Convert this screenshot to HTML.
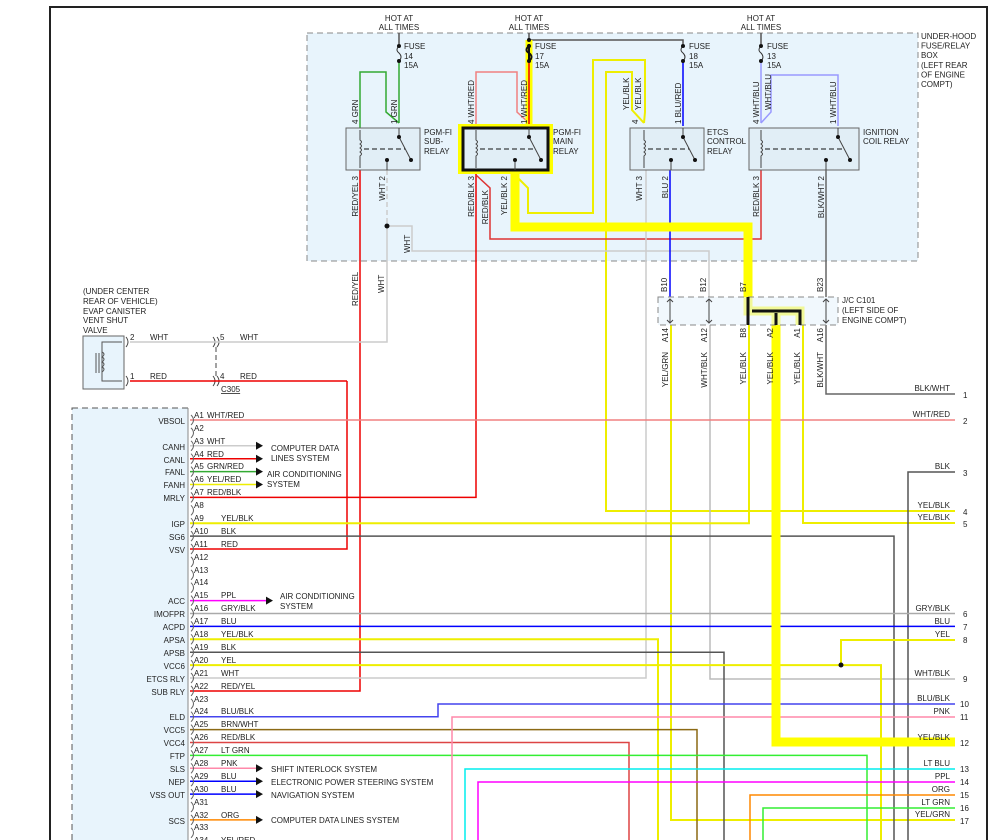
<!DOCTYPE html>
<html><head><meta charset="utf-8"><style>
html,body{margin:0;padding:0;background:#fff}
svg{display:block}
text{font-family:"Liberation Sans",Arial,sans-serif;font-size:8px;fill:#222}
.w{fill:none;stroke-width:1.5}
</style></head><body>
<svg width="994" height="840" viewBox="0 0 994 840" xmlns="http://www.w3.org/2000/svg">
<!-- frame -->
<path d="M50,840 V7 H987 V840" fill="none" stroke="#222" stroke-width="2"/>
<!-- fuse box -->
<rect x="307" y="33" width="611" height="228" fill="#e8f4fc" stroke="#888" stroke-dasharray="6,4"/>
<text x="921" y="39">UNDER-HOOD</text><text x="921" y="48.5">FUSE/RELAY</text><text x="921" y="58">BOX</text><text x="921" y="68">(LEFT REAR</text><text x="921" y="77.5">OF ENGINE</text><text x="921" y="87">COMPT)</text>
<!-- hot at all times -->
<g text-anchor="middle">
<text x="399" y="21">HOT AT</text><text x="399" y="30">ALL TIMES</text>
<text x="529" y="21">HOT AT</text><text x="529" y="30">ALL TIMES</text>
<text x="761" y="21">HOT AT</text><text x="761" y="30">ALL TIMES</text>
</g>
<!-- ECM box -->
<rect x="72" y="408" width="116" height="440" fill="#e8f4fc" stroke="#555" stroke-dasharray="6,4"/>
<line x1="188" y1="408" x2="188" y2="840" stroke="#888"/>
<!-- evap valve -->
<rect x="83" y="336" width="41" height="53" fill="#e8f4fc" stroke="#666"/>
<path d="M99,353 V373 M96,353 V373 M122,342 H102 V381 H122" fill="none" stroke="#555"/>
<path d="M102,352 q4,2 0,5 q4,2 0,5 q4,2 0,5 q4,2 0,5" fill="none" stroke="#555"/>
<text x="83" y="294">(UNDER CENTER</text><text x="83" y="304">REAR OF VEHICLE)</text><text x="83" y="314">EVAP CANISTER</text><text x="83" y="323">VENT SHUT</text><text x="83" y="333">VALVE</text>
<text x="130" y="340">2</text><text x="150" y="340">WHT</text><text x="130" y="379">1</text><text x="150" y="379">RED</text>
<text x="220" y="340">5</text><text x="240" y="340">WHT</text><text x="220" y="379">4</text><text x="240" y="379">RED</text>
<text x="221" y="392" text-decoration="underline">C305</text>
<path d="M126,337 q4,5 0,10 M126,376 q4,5 0,10 M213,337 q4,5 0,10 M217,337 q4,5 0,10 M213,376 q4,5 0,10 M217,376 q4,5 0,10" fill="none" stroke="#444"/>
<line x1="216" y1="347" x2="216" y2="376" stroke="#444" stroke-dasharray="5,3"/>

<!-- ===== wires ===== -->
<g class="w">
<!-- fuse feed -->
<path d="M399,33 V44 M529,33 V40 H683 V44 M761,33 V44" stroke="#555"/>
<path d="M399,61 V123" stroke="#3a3"/>
<path d="M360,128 V72 H386 V112 L399,123" stroke="#3a3"/>
<path d="M476,128 V72 H517 V112 L529,123" stroke="#f08080"/>
<path d="M683,61 V126" stroke="#00f"/>
<path d="M761,61 V123 M761,123 L771,112 V75 H838 V126" stroke="#99f"/>
<!-- yellow thin wires -->
<path d="M515,175 L528,188 V213 H593 V60 H645 V112 L644,123" stroke="#ee0" stroke-width="2"/>
<path d="M644,123 L632,110 V72 H606 V511 H955" stroke="#ee0" stroke-width="2"/>
<!-- relay bottoms -->
<path d="M360,170 V691 H190" stroke="#e00"/>
<path d="M387,170 V226" stroke="#ccc" stroke-dasharray="5,3"/>
<path d="M387,226 V342 H130" stroke="#ccc"/>
<path d="M387,226 H412 V251 H709 V297" stroke="#ccc"/>
<path d="M476,170 V497.4 H190" stroke="#e00"/>
<path d="M476,175 L490,188 V239 H761 V170" stroke="#d33"/>
<path d="M646,170 V678 H190" stroke="#ccc"/>
<path d="M670,170 V297" stroke="#00f"/>
<path d="M826,170 V297" stroke="#666"/>
<path d="M347,381 V549 H190" stroke="#e00"/>
<path d="M130,381 H347" stroke="#e00"/>
<!-- J/C bottom wires -->
<path d="M826,325 V394 H955" stroke="#666"/>
<path d="M671,325 V820 H955" stroke="#ee0" stroke-width="2"/>
<path d="M710,325 V679 H955" stroke="#bbb"/>
<path d="M749,325 V523.2 H190" stroke="#ee0" stroke-width="2"/>
<path d="M803,325 V523 H955" stroke="#ee0" stroke-width="2"/>
<!-- ECM pin wires -->
<path d="M190,420 H955" stroke="#f08080"/>
<path d="M190,445.8 H258" stroke="#ccc"/>
<path d="M190,458.7 H258" stroke="#e00"/>
<path d="M190,471.6 H258" stroke="#3a3"/>
<path d="M190,484.5 H258" stroke="#ee0"/>
<path d="M190,536.1 H894 V840" stroke="#555"/>
<path d="M908,840 V472 H955" stroke="#555"/>
<path d="M190,600.6 H268" stroke="#f0f"/>
<path d="M190,613.5 H955" stroke="#aaa"/>
<path d="M190,626.4 H955" stroke="#00f"/>
<path d="M190,639.3 H658 V840" stroke="#ee0" stroke-width="2"/>
<path d="M190,652.2 H724 V840" stroke="#555"/>
<path d="M190,665.1 H881 V840" stroke="#ee0" stroke-width="2"/>
<path d="M841,665 V640 H955" stroke="#ee0" stroke-width="2"/>
<path d="M190,716.7 H438 V704 H955" stroke="#44e"/>
<path d="M190,729.6 H697 V840" stroke="#8b6914"/>
<path d="M190,742.5 H629 V840" stroke="#d44"/>
<path d="M190,755.4 H867 V840" stroke="#3e3"/>
<path d="M452,840 V717 H955" stroke="#f8a"/>
<path d="M465,840 V769 H955" stroke="#0ee"/>
<path d="M478,840 V782 H955" stroke="#f0f"/>
<path d="M750,840 V795 H955" stroke="#f80"/>
<path d="M763,840 V808 H955" stroke="#3e3"/>
<path d="M190,768.3 H258" stroke="#f8a"/>
<path d="M190,781.2 H258" stroke="#00f"/>
<path d="M190,794.1 H258" stroke="#00f"/>
<path d="M190,819.9 H258" stroke="#f80"/>
<path d="M190,845 H258" stroke="#ee0"/>
</g>
<circle cx="387" cy="226" r="2.5" fill="#111"/>
<circle cx="841" cy="665" r="2.5" fill="#111"/>
<!-- arrows -->
<g fill="#111">
<path d="M256,441.8 l7,4 l-7,4z"/><path d="M256,454.7 l7,4 l-7,4z"/><path d="M256,467.6 l7,4 l-7,4z"/><path d="M256,480.5 l7,4 l-7,4z"/>
<path d="M266,596.6 l7,4 l-7,4z"/>
<path d="M256,764.3 l7,4 l-7,4z"/><path d="M256,777.2 l7,4 l-7,4z"/><path d="M256,790.1 l7,4 l-7,4z"/><path d="M256,815.9 l7,4 l-7,4z"/>
</g>
<text x="271" y="451">COMPUTER DATA</text><text x="271" y="461">LINES SYSTEM</text>
<text x="267" y="477">AIR CONDITIONING</text><text x="267" y="487">SYSTEM</text>
<text x="280" y="599">AIR CONDITIONING</text><text x="280" y="609">SYSTEM</text>
<text x="271" y="772">SHIFT INTERLOCK SYSTEM</text>
<text x="271" y="785">ELECTRONIC POWER STEERING SYSTEM</text>
<text x="271" y="798">NAVIGATION SYSTEM</text>
<text x="271" y="823">COMPUTER DATA LINES SYSTEM</text>

<!-- thick highlighted path -->
<g fill="none" stroke="#ff0" stroke-linejoin="miter">
<path d="M529,40 V128" stroke-width="7"/>
<path d="M515,174 V227 H748 V311 H800 V325 M776,311 V742 H955" stroke-width="9"/>
</g>
<path d="M529,44 V61" stroke="#111" stroke-width="2" fill="none"/>
<path d="M529,61 V128" stroke="#e00" stroke-width="1.5"/>
<path d="M748,297 V325 M752,311 H800 V325 M776,313 V325" stroke="#111" stroke-width="3" fill="none"/>
<rect x="458" y="124" width="95" height="50" fill="#ff0"/>

<!-- J/C box -->
<rect x="658" y="297" width="180" height="28" fill="#e8f4fc" fill-opacity="0.6" stroke="#888" stroke-dasharray="6,4"/>
<path d="M748,297 V325 M752,311 H800 V325 M776,313 V325" stroke="#111" stroke-width="3" fill="none"/>
<path d="M670,299 V323 M709,299 V323 M826,299 V323" stroke="#444"/>
<path d="M667,302 l3,-3 l3,3 M667,320 l3,3 l3,-3 M706,302 l3,-3 l3,3 M706,320 l3,3 l3,-3 M823,302 l3,-3 l3,3 M823,320 l3,3 l3,-3" fill="none" stroke="#444"/>
<text x="842" y="303">J/C C101</text><text x="842" y="313">(LEFT SIDE OF</text><text x="842" y="323">ENGINE COMPT)</text>

<!-- fuses -->
<g fill="none" stroke="#333">
<path d="M399,46 q-4,4 0,7 q4,4 0,8 M683,46 q-4,4 0,7 q4,4 0,8 M761,46 q-4,4 0,7 q4,4 0,8"/>
</g>
<path d="M529,46 q-5,4 0,7 q5,4 0,8" fill="none" stroke="#111" stroke-width="2"/>
<g fill="#111"><circle cx="399" cy="46" r="2"/><circle cx="399" cy="61" r="2"/><circle cx="529" cy="40" r="2"/><circle cx="529" cy="46" r="2"/><circle cx="529" cy="61" r="2"/><circle cx="683" cy="46" r="2"/><circle cx="683" cy="61" r="2"/><circle cx="761" cy="46" r="2"/><circle cx="761" cy="61" r="2"/></g>
<text x="404" y="49">FUSE</text><text x="404" y="59">14</text><text x="404" y="68">15A</text>
<text x="535" y="49">FUSE</text><text x="535" y="59">17</text><text x="535" y="68">15A</text>
<text x="689" y="49">FUSE</text><text x="689" y="59">18</text><text x="689" y="68">15A</text>
<text x="767" y="49">FUSE</text><text x="767" y="59">13</text><text x="767" y="68">15A</text>

<!-- relays -->
<g stroke="#666" fill="#e1eef6">
<rect x="346" y="128" width="74" height="42"/>
<rect x="463" y="128" width="85" height="42" stroke="#111" stroke-width="3"/>
<rect x="630" y="128" width="74" height="42"/>
<rect x="749" y="128" width="110" height="42"/>
</g>
<g fill="none" stroke="#444">
<path d="M360,130 V140 q3,2 0,4 q3,2 0,4 q3,2 0,4 q3,2 0,4 V168 M476,130 V140 q3,2 0,4 q3,2 0,4 q3,2 0,4 q3,2 0,4 V168 M644,130 V140 q3,2 0,4 q3,2 0,4 q3,2 0,4 q3,2 0,4 V168 M761,130 V140 q3,2 0,4 q3,2 0,4 q3,2 0,4 q3,2 0,4 V168"/>
<path d="M399,128 V137 L411,160 M529,128 V137 L541,160 M683,128 V137 L695,160 M838,128 V137 L850,160 M387,160 V170 M515,160 V170 M671,160 V170 M826,160 V170"/>
</g>
<g stroke="#111" stroke-dasharray="5,3"><path d="M364,149 H405 M480,149 H535 M648,149 H689 M765,149 H844"/></g>
<g fill="#111">
<circle cx="399" cy="137" r="2"/><circle cx="411" cy="160" r="2"/><circle cx="387" cy="160" r="2"/>
<circle cx="529" cy="137" r="2"/><circle cx="541" cy="160" r="2"/><circle cx="515" cy="160" r="2"/>
<circle cx="683" cy="137" r="2"/><circle cx="695" cy="160" r="2"/><circle cx="671" cy="160" r="2"/>
<circle cx="838" cy="137" r="2"/><circle cx="850" cy="160" r="2"/><circle cx="826" cy="160" r="2"/>
</g>
<text x="424" y="135">PGM-FI</text><text x="424" y="144">SUB-</text><text x="424" y="154">RELAY</text>
<text x="553" y="135">PGM-FI</text><text x="553" y="144">MAIN</text><text x="553" y="154">RELAY</text>
<text x="707" y="135">ETCS</text><text x="707" y="144">CONTROL</text><text x="707" y="154">RELAY</text>
<text x="863" y="135">IGNITION</text><text x="863" y="144">COIL RELAY</text>

<!-- rotated labels top -->
<g>
<text transform="translate(358,124) rotate(-90)">4  GRN</text>
<text transform="translate(397,124) rotate(-90)">1  GRN</text>
<text transform="translate(474,124) rotate(-90)">4  WHT/RED</text>
<text transform="translate(527,124) rotate(-90)">1  WHT/RED</text>
<text transform="translate(638,124) rotate(-90)">4</text>
<text transform="translate(629,110) rotate(-90)">YEL/BLK</text>
<text transform="translate(641,110) rotate(-90)">YEL/BLK</text>
<text transform="translate(681,124) rotate(-90)">1  BLU/RED</text>
<text transform="translate(759,124) rotate(-90)">4  WHT/BLU</text>
<text transform="translate(771,110) rotate(-90)">WHT/BLU</text>
<text transform="translate(836,124) rotate(-90)">1 WHT/BLU</text>
</g>
<g text-anchor="end">
<text transform="translate(358,176) rotate(-90)">RED/YEL  3</text>
<text transform="translate(385,176) rotate(-90)">WHT  2</text>
<text transform="translate(474,176) rotate(-90)">RED/BLK  3</text>
<text transform="translate(488,190) rotate(-90)">RED/BLK</text>
<text transform="translate(507,176) rotate(-90)">YEL/BLK  2</text>
<text transform="translate(642,176) rotate(-90)">WHT  3</text>
<text transform="translate(668,176) rotate(-90)">BLU  2</text>
<text transform="translate(759,176) rotate(-90)">RED/BLK  3</text>
<text transform="translate(824,176) rotate(-90)">BLK/WHT  2</text>
<text transform="translate(668,328) rotate(-90)">A14</text><text transform="translate(668,352) rotate(-90)">YEL/GRN</text>
<text transform="translate(707,328) rotate(-90)">A12</text><text transform="translate(707,352) rotate(-90)">WHT/BLK</text>
<text transform="translate(746,328) rotate(-90)">B8</text><text transform="translate(746,352) rotate(-90)">YEL/BLK</text>
<text transform="translate(773,328) rotate(-90)">A2</text><text transform="translate(773,352) rotate(-90)">YEL/BLK</text>
<text transform="translate(800,328) rotate(-90)">A1</text><text transform="translate(800,352) rotate(-90)">YEL/BLK</text>
<text transform="translate(823,328) rotate(-90)">A16</text><text transform="translate(823,352) rotate(-90)">BLK/WHT</text>
</g>
<text transform="translate(410,253) rotate(-90)">WHT</text>
<text transform="translate(358,306) rotate(-90)">RED/YEL</text>
<text transform="translate(384,293) rotate(-90)">WHT</text>
<text transform="translate(667,292) rotate(-90)">B10</text>
<text transform="translate(706,292) rotate(-90)">B12</text>
<text transform="translate(746,292) rotate(-90)">B7</text>
<text transform="translate(823,292) rotate(-90)">B23</text>

<!-- ECM pins -->
<g fill="none" stroke="#666">
<path d="M191,415 q5,5 0,10 M191,427.9 q5,5 0,10 M191,440.8 q5,5 0,10 M191,453.7 q5,5 0,10 M191,466.6 q5,5 0,10 M191,479.5 q5,5 0,10 M191,492.4 q5,5 0,10 M191,505.3 q5,5 0,10 M191,518.2 q5,5 0,10 M191,531.1 q5,5 0,10 M191,544 q5,5 0,10 M191,556.9 q5,5 0,10 M191,569.8 q5,5 0,10 M191,582.7 q5,5 0,10 M191,595.6 q5,5 0,10 M191,608.5 q5,5 0,10 M191,621.4 q5,5 0,10 M191,634.3 q5,5 0,10 M191,647.2 q5,5 0,10 M191,660.1 q5,5 0,10 M191,673 q5,5 0,10 M191,685.9 q5,5 0,10 M191,698.8 q5,5 0,10 M191,711.7 q5,5 0,10 M191,724.6 q5,5 0,10 M191,737.5 q5,5 0,10 M191,750.4 q5,5 0,10 M191,763.3 q5,5 0,10 M191,776.2 q5,5 0,10 M191,789.1 q5,5 0,10 M191,802 q5,5 0,10 M191,814.9 q5,5 0,10 M191,827.8 q5,5 0,10"/>
</g>
<g>
<text x="194" y="418">A1</text><text x="207" y="418">WHT/RED</text>
<text x="194" y="431">A2</text>
<text x="194" y="444">A3</text><text x="207" y="444">WHT</text>
<text x="194" y="457">A4</text><text x="207" y="457">RED</text>
<text x="194" y="469">A5</text><text x="207" y="469">GRN/RED</text>
<text x="194" y="482">A6</text><text x="207" y="482">YEL/RED</text>
<text x="194" y="495">A7</text><text x="207" y="495">RED/BLK</text>
<text x="194" y="508">A8</text>
<text x="194" y="521">A9</text><text x="221" y="521">YEL/BLK</text>
<text x="194" y="534">A10</text><text x="221" y="534">BLK</text>
<text x="194" y="547">A11</text><text x="221" y="547">RED</text>
<text x="194" y="560">A12</text>
<text x="194" y="573">A13</text>
<text x="194" y="585">A14</text>
<text x="194" y="598">A15</text><text x="221" y="598">PPL</text>
<text x="194" y="611">A16</text><text x="221" y="611">GRY/BLK</text>
<text x="194" y="624">A17</text><text x="221" y="624">BLU</text>
<text x="194" y="637">A18</text><text x="221" y="637">YEL/BLK</text>
<text x="194" y="650">A19</text><text x="221" y="650">BLK</text>
<text x="194" y="663">A20</text><text x="221" y="663">YEL</text>
<text x="194" y="676">A21</text><text x="221" y="676">WHT</text>
<text x="194" y="689">A22</text><text x="221" y="689">RED/YEL</text>
<text x="194" y="702">A23</text>
<text x="194" y="714">A24</text><text x="221" y="714">BLU/BLK</text>
<text x="194" y="727">A25</text><text x="221" y="727">BRN/WHT</text>
<text x="194" y="740">A26</text><text x="221" y="740">RED/BLK</text>
<text x="194" y="753">A27</text><text x="221" y="753">LT GRN</text>
<text x="194" y="766">A28</text><text x="221" y="766">PNK</text>
<text x="194" y="779">A29</text><text x="221" y="779">BLU</text>
<text x="194" y="792">A30</text><text x="221" y="792">BLU</text>
<text x="194" y="805">A31</text>
<text x="194" y="818">A32</text><text x="221" y="818">ORG</text>
<text x="194" y="830">A33</text>
<text x="194" y="843">A34</text><text x="221" y="843">YEL/RED</text>
</g>
<g text-anchor="end">
<text x="185" y="424">VBSOL</text><text x="185" y="450">CANH</text><text x="185" y="463">CANL</text><text x="185" y="475">FANL</text><text x="185" y="488">FANH</text><text x="185" y="501">MRLY</text>
<text x="185" y="527">IGP</text><text x="185" y="540">SG6</text><text x="185" y="553">VSV</text>
<text x="185" y="604">ACC</text><text x="185" y="617">IMOFPR</text><text x="185" y="630">ACPD</text><text x="185" y="643">APSA</text><text x="185" y="656">APSB</text><text x="185" y="669">VCC6</text><text x="185" y="682">ETCS RLY</text><text x="185" y="695">SUB RLY</text>
<text x="185" y="720">ELD</text><text x="185" y="733">VCC5</text><text x="185" y="746">VCC4</text><text x="185" y="759">FTP</text><text x="185" y="772">SLS</text><text x="185" y="785">NEP</text><text x="185" y="798">VSS OUT</text><text x="185" y="824">SCS</text>
<!-- right labels -->
<text x="950" y="391">BLK/WHT</text><text x="950" y="417">WHT/RED</text><text x="950" y="469">BLK</text><text x="950" y="508">YEL/BLK</text><text x="950" y="520">YEL/BLK</text>
<text x="950" y="611">GRY/BLK</text><text x="950" y="624">BLU</text><text x="950" y="637">YEL</text><text x="950" y="676">WHT/BLK</text><text x="950" y="701">BLU/BLK</text><text x="950" y="714">PNK</text><text x="950" y="740">YEL/BLK</text>
<text x="950" y="766">LT BLU</text><text x="950" y="779">PPL</text><text x="950" y="792">ORG</text><text x="950" y="805">LT GRN</text><text x="950" y="817">YEL/GRN</text>
</g>
<g>
<text x="963" y="398">1</text><text x="963" y="424">2</text><text x="963" y="476">3</text><text x="963" y="515">4</text><text x="963" y="527">5</text>
<text x="963" y="617">6</text><text x="963" y="630">7</text><text x="963" y="643">8</text><text x="963" y="682">9</text><text x="960" y="707">10</text><text x="960" y="720">11</text><text x="960" y="746">12</text>
<text x="960" y="772">13</text><text x="960" y="785">14</text><text x="960" y="798">15</text><text x="960" y="811">16</text><text x="960" y="824">17</text>
</g>
</svg>
</body></html>
